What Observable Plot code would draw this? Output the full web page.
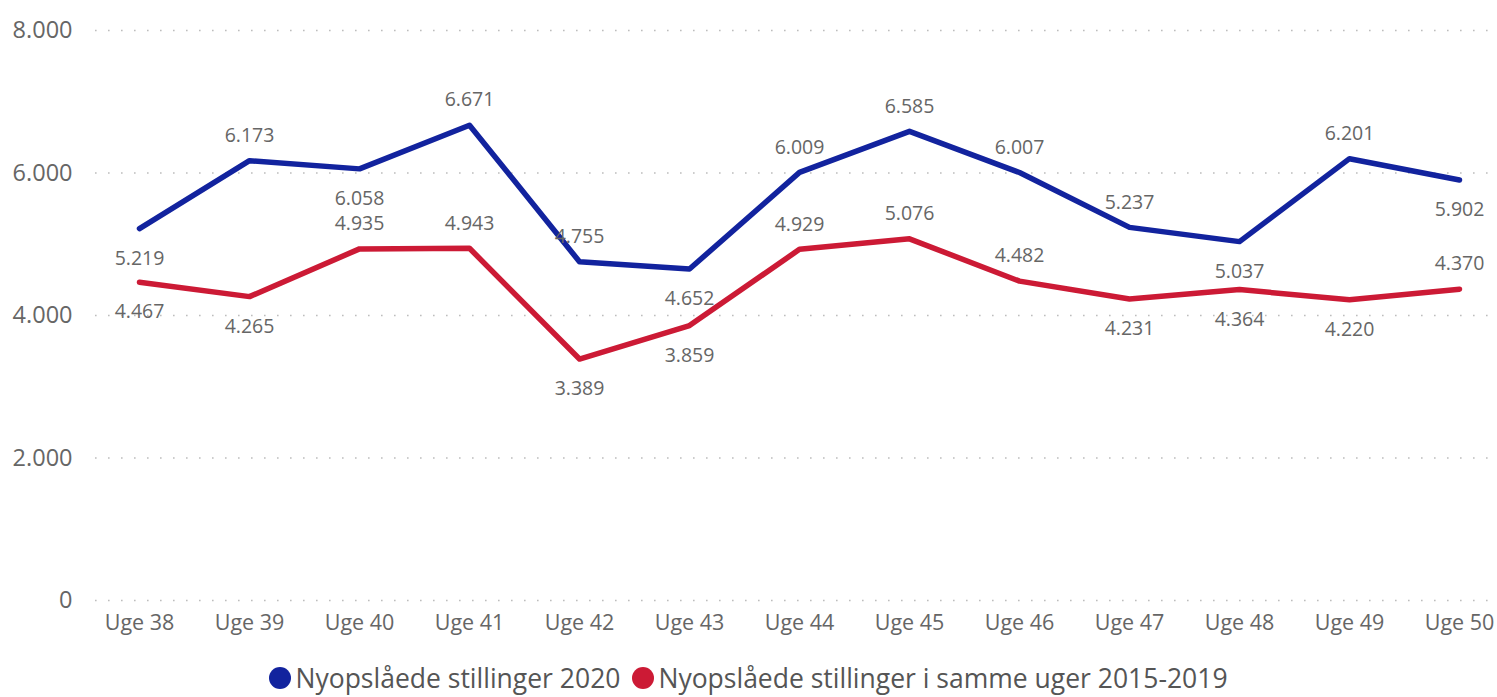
<!DOCTYPE html>
<html>
<head>
<meta charset="utf-8">
<script src="https://cdn.jsdelivr.net/npm/d3@7"></script>
<script src="https://cdn.jsdelivr.net/npm/@observablehq/plot@0.6"></script>
<style>
  html, body { margin: 0; padding: 0; background: #fff; }
  body { font-family: "Segoe UI", "Open Sans", sans-serif; width: 1497px; }
  #legend { display: flex; justify-content: center; align-items: center; height: 34px; line-height: 34px;
            font-size: 26.5px; color: #555; gap: 12px; white-space: nowrap; }
  .item { display: flex; align-items: center; gap: 4px; }
  .dot { width: 22px; height: 22px; border-radius: 50%; display: inline-block; }
</style>
</head>
<body>
<div id="chart"></div>
<div id="legend"></div>
<script>
const weeks = ["Uge 38","Uge 39","Uge 40","Uge 41","Uge 42","Uge 43","Uge 44","Uge 45","Uge 46","Uge 47","Uge 48","Uge 49","Uge 50"];
const values2020 = [5219, 6173, 6058, 6671, 4755, 4652, 6009, 6585, 6007, 5237, 5037, 6201, 5902];
const valuesAvg = [4467, 4265, 4935, 4943, 3389, 3859, 4929, 5076, 4482, 4231, 4364, 4220, 4370];
const labelPos2020 = ["below","above","below","above","above","below","above","above","above","above","below","above","below"];
const labelPosAvg = ["below","below","above","above","below","below","above","above","above","below","below","below","above"];
const seriesNames = ["Nyopslåede stillinger 2020", "Nyopslåede stillinger i samme uger 2015-2019"];
const seriesColors = ["#12239E", "#CC1A35"];
const yTicks = [0, 2000, 4000, 6000, 8000];

const fmt = d3.formatLocale({decimal: ",", thousands: ".", grouping: [3], currency: ["", " kr"]}).format(",");

const rows = [];
weeks.forEach((w, i) => {
  rows.push({week: w, value: values2020[i], series: seriesNames[0], pos: labelPos2020[i]});
  rows.push({week: w, value: valuesAvg[i], series: seriesNames[1], pos: labelPosAvg[i]});
});

const textStyle = {fill: "#666", fontSize: 19.5, fontFamily: "'Segoe UI', 'Open Sans', sans-serif"};

const chart = Plot.plot({
  width: 1497,
  height: 661,
  marginLeft: 95,
  marginRight: 7,
  marginTop: 30,
  marginBottom: 61,
  style: {fontFamily: "'Segoe UI', 'Open Sans', sans-serif", background: "#fff", overflow: "visible"},
  x: {type: "point", domain: weeks, padding: 0, insetLeft: 43, insetRight: 30, label: null},
  y: {domain: [0, 8000], label: null},
  color: {domain: seriesNames, range: seriesColors},
  marks: [
    Plot.ruleY(yTicks, {stroke: "#bdbdbd", strokeWidth: 1.6, strokeDasharray: "1.6,11.4"}),
    Plot.axisY({ticks: yTicks, tickSize: 0, tickPadding: 23, tickFormat: fmt, fontSize: 23.5, fill: "#666"}),
    Plot.axisX({tickSize: 0, tickPadding: 14, fontSize: 21.5, fill: "#666"}),
    Plot.line(rows, {x: "week", y: "value", z: "series", stroke: "series", strokeWidth: 5.5, strokeLinejoin: "round", strokeLinecap: "round"}),
    Plot.text(rows.filter(d => d.pos === "above"), {x: "week", y: "value", text: d => fmt(d.value), dy: -25, lineAnchor: "middle", ...textStyle}),
    Plot.text(rows.filter(d => d.pos === "below"), {x: "week", y: "value", text: d => fmt(d.value), dy: 30, lineAnchor: "middle", ...textStyle})
  ]
});
document.getElementById("chart").appendChild(chart);

const legend = document.getElementById("legend");
seriesNames.forEach((name, i) => {
  const item = document.createElement("span");
  item.className = "item";
  const dot = document.createElement("span");
  dot.className = "dot";
  dot.style.background = seriesColors[i];
  const label = document.createElement("span");
  label.textContent = name;
  item.appendChild(dot);
  item.appendChild(label);
  legend.appendChild(item);
});
</script>
</body>
</html>
